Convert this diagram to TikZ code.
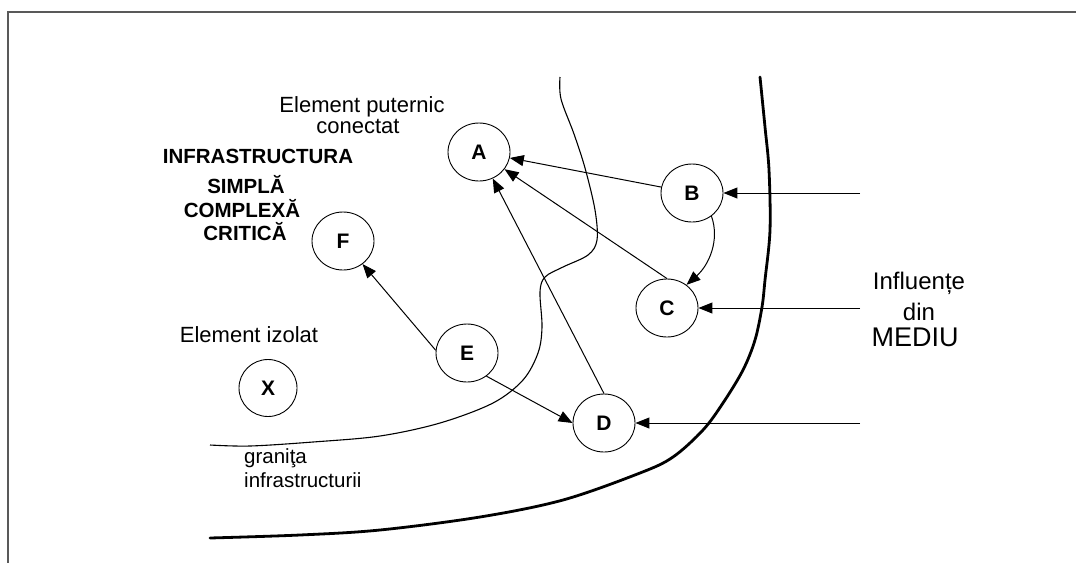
\documentclass[tikz,border=0pt]{standalone}
\usepackage{fontspec}
\setmainfont{Liberation Sans}
\usetikzlibrary{arrows.meta,shapes.geometric}
\begin{document}
\begin{tikzpicture}[x=1pt,y=-1pt,
  elem/.style={ellipse,draw,line width=0.9pt,minimum width=62pt,minimum height=58pt,inner sep=0pt,font=\fontsize{21}{21}\selectfont\bfseries},
  conn/.style={line width=1pt,-{Triangle[length=14pt,width=11pt]}},
  lbl/.style={anchor=base,inner sep=0pt,font=\fontsize{22}{22}\selectfont},
  blbl/.style={anchor=base,inner sep=0pt,font=\fontsize{20.5}{20.5}\selectfont\bfseries},
  slbl/.style={anchor=base west,inner sep=0pt,font=\fontsize{20.5}{20.5}\selectfont},
  boundary/.style={line width=1.1pt,line join=round},
  envline/.style={line width=2.8pt,line cap=round,line join=round},
  frameline/.style={line width=2pt,draw=black!65}
]
\useasboundingbox (0,0) rectangle (1076,563);
\draw[frameline] (1076,12) -- (7.5,12) -- (7.5,563);

% boundaries
\draw[boundary] plot[smooth,tension=0.55] coordinates {(560,77) (561,99) (574,134) (585,168) (595,210) (597,240) (588,255) (563,267) (545,277) (540,292) (542,327) (538,353) (523,380) (493,403) (440,423) (380,436) (313,442) (250,446) (210,445)};
\draw[envline] plot[smooth,tension=0.55] coordinates {(760,77) (765,127) (769,170) (770,230) (765,280) (762,307) (755,340) (743,370) (723,403) (703,430) (673,457) (640,473) (563,500) (480,517) (380,530) (300,535) (210,538)};

% elements
\node[elem] (A) at (479,152) {A};
\node[elem] (B) at (692,193) {B};
\node[elem] (C) at (667,308) {C};
\node[elem] (D) at (604,423) {D};
\node[elem] (E) at (467,353) {E};
\node[elem] (F) at (343,241) {F};
\node[elem,minimum width=58pt,minimum height=57pt] (X) at (268,388) {X};

% labels
\node[lbl] (l1) at (362,112) {Element puternic};
\node[lbl] (l2) at (358,133) {conectat};
\node[blbl] (i1) at (258,163) {INFRASTRUCTURA};
\node[blbl] (i2) at (246,193) {SIMPLĂ};
\node[blbl] (i3) at (242,217) {COMPLEXĂ};
\node[blbl] (i4) at (245,240) {CRITICĂ};
\node[lbl] (iz) at (249,342) {Element izolat};
\node[slbl] (g1) at (244,463) {graniţa};
\node[slbl] (g2) at (244,487) {infrastructurii};
\node[lbl,font=\fontsize{24}{24}\selectfont] (m1) at (919,289) {Influențe};
\node[lbl,font=\fontsize{24}{24}\selectfont] (m2) at (919,320) {din};
\node[lbl,font=\fontsize{27}{27}\selectfont] (m3) at (915,346) {MEDIU};

% influences from environment
\coordinate (inB) at (860,193);
\coordinate (inC) at (860,308);
\coordinate (inD) at (860,423);
\draw[conn] (inB) -- (B.east);
\draw[conn] (inC) -- (C.east);
\draw[conn] (inD) -- (D.east);

% internal connections
\draw[conn] (B) -- (A);
\draw[conn] (C.north) -- (A);
\draw[conn] (D.north) -- (A);
\draw[conn] (E.-50) -- (D.west);
\draw[conn] (E.175) -- (F);
\draw[conn] (B.-50) .. controls (720,240) and (709,265) .. (C.50);
\end{tikzpicture}
\end{document}
